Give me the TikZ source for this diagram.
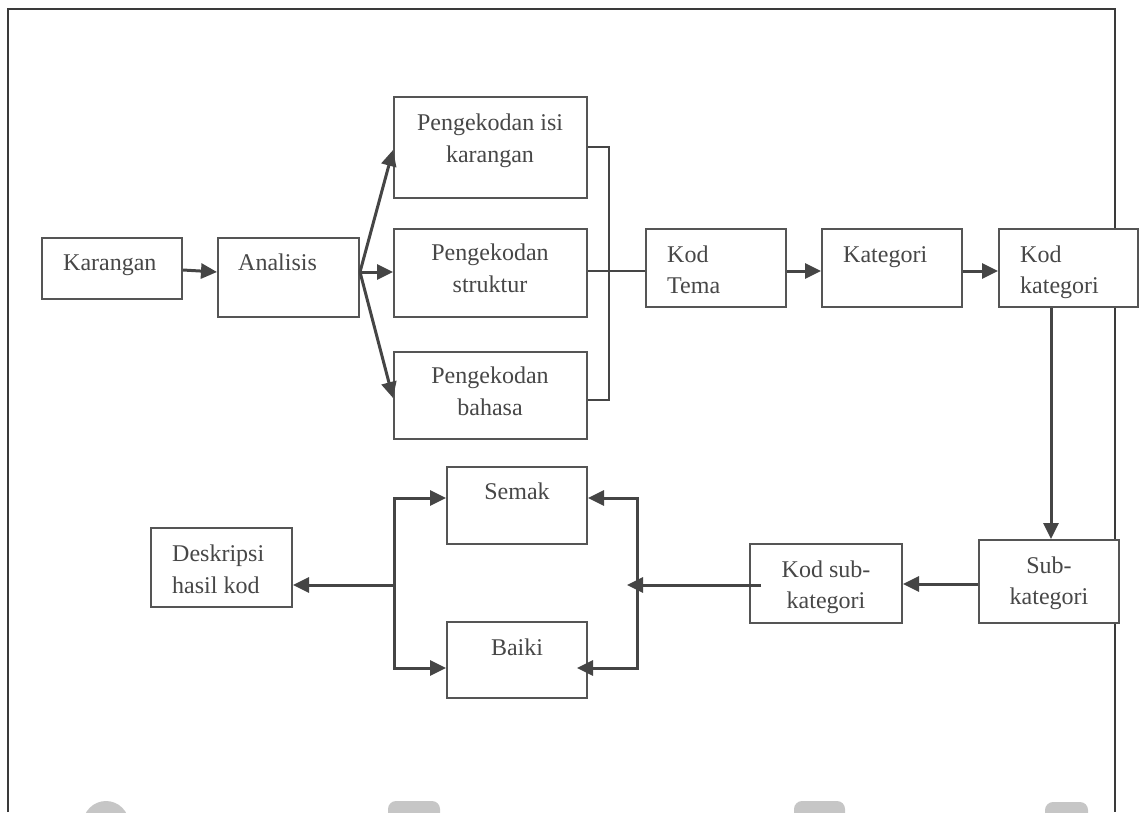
\documentclass[tikz,border=0pt]{standalone}
\usepackage{fontspec}
\setmainfont{Liberation Serif}
\usetikzlibrary{arrows.meta}
\definecolor{boxline}{HTML}{555555}
\definecolor{arrline}{HTML}{454545}
\definecolor{txt}{HTML}{474747}
\definecolor{frame}{HTML}{3A3A3A}
\definecolor{wmark}{HTML}{C6C6C6}
\tikzset{
  box/.style={draw=boxline, line width=2pt, fill=white, inner sep=0pt},
  arr/.style={draw=arrline, line width=3pt, -{Triangle[length=16pt,width=15pt]}},
  arrboth/.style={draw=arrline, line width=3pt, line join=miter,
     {Triangle[length=16pt,width=15pt]}-{Triangle[length=16pt,width=15pt]}},
  conn/.style={draw=arrline, line width=2.4pt, line join=miter},
  lbl/.style={text=txt, inner sep=0pt, font=\fontsize{24}{28}\selectfont},
  pageframe/.style={draw=frame, line width=1.4pt},
}
\begin{document}
\begin{tikzpicture}[x=1pt,y=-1pt]
\useasboundingbox (0,0) rectangle (1139,812);
% page frame
\draw[pageframe] (8,812) -- (8,9) -- (1115,9) -- (1115,812);
% watermark remnants at the bottom edge
\begin{scope}
\clip (0,0) rectangle (1139,812);
\fill[wmark] (106,824) circle (23);
\fill[wmark, rounded corners=8] (388,801) rectangle (440,840);
\fill[wmark, rounded corners=8] (794,801) rectangle (845,840);
\fill[wmark, rounded corners=8] (1045,802) rectangle (1088,840);
\end{scope}
% boxes
\node[box, minimum width=140pt, minimum height=61pt] (karangan) at (112,268.5) {};
\node[box, minimum width=141pt, minimum height=79pt] (analisis) at (288.5,277.5) {};
\node[box, minimum width=193pt, minimum height=101pt] (pk1) at (490.5,147.5) {};
\node[box, minimum width=193pt, minimum height=88pt] (pk2) at (490.5,273) {};
\node[box, minimum width=193pt, minimum height=87pt] (pk3) at (490.5,395.5) {};
\node[box, minimum width=140pt, minimum height=78pt] (kodtema) at (716,268) {};
\node[box, minimum width=140pt, minimum height=78pt] (kategori) at (892,268) {};
\node[box, minimum width=139pt, minimum height=78pt] (kodkat) at (1068.5,268) {};
\node[box, minimum width=140pt, minimum height=83pt] (subkat) at (1049,581.5) {};
\node[box, minimum width=152pt, minimum height=79pt] (kodsub) at (826,583.5) {};
\node[box, minimum width=140pt, minimum height=77pt] (semak) at (517,505.5) {};
\node[box, minimum width=140pt, minimum height=76pt] (baiki) at (517,660) {};
\node[box, minimum width=141pt, minimum height=79pt] (deskripsi) at (221.5,567.5) {};
% labels
\node[lbl, anchor=base west] (tkar) at (63,270) {Karangan};
\node[lbl, anchor=base west] (tana) at (238,270) {Analisis};
\node[lbl, anchor=base] (tpk1a) at (490,130.5) {Pengekodan isi};
\node[lbl, anchor=base] (tpk1b) at (490,162) {karangan};
\node[lbl, anchor=base] (tpk2a) at (490,260.5) {Pengekodan};
\node[lbl, anchor=base] (tpk2b) at (490,292.5) {struktur};
\node[lbl, anchor=base] (tpk3a) at (490,383) {Pengekodan};
\node[lbl, anchor=base] (tpk3b) at (490,415) {bahasa};
\node[lbl, anchor=base west] (ttema1) at (667,262.5) {Kod};
\node[lbl, anchor=base west] (ttema2) at (667,293.5) {Tema};
\node[lbl, anchor=base west] (tkat) at (843,262.5) {Kategori};
\node[lbl, anchor=base west] (tkk1) at (1020,262.5) {Kod};
\node[lbl, anchor=base west] (tkk2) at (1020,293) {kategori};
\node[lbl, anchor=base] (tsub1) at (1049,573) {Sub-};
\node[lbl, anchor=base] (tsub2) at (1049,604) {kategori};
\node[lbl, anchor=base] (tks1) at (826,577) {Kod sub-};
\node[lbl, anchor=base] (tks2) at (826,608) {kategori};
\node[lbl, anchor=base] (tsem) at (517,499.5) {Semak};
\node[lbl, anchor=base] (tbai) at (517,655) {Baiki};
\node[lbl, anchor=base west] (tdes1) at (172,561.5) {Deskripsi};
\node[lbl, anchor=base west] (tdes2) at (172,593.5) {hasil kod};
% junction coordinates
\coordinate (m1) at (609,147);
\coordinate (m3) at (609,400);
\coordinate (jl) at (394,585);
\coordinate (jlt) at (394,498);
\coordinate (jlb) at (394,668);
\coordinate (jr) at (627,585);
\coordinate (jrt) at (637,498);
\coordinate (jrb) at (637,668);
\coordinate (bt) at (577,668);
\coordinate (ks) at ([xshift=12pt]kodsub.west);
% connectors
\draw[arr] (karangan.east |- 0,270) -- (analisis.west |- 0,272);
\draw[arr] (analisis.east |- 0,272) -- (pk1.west |- 0,150);
\draw[arr] (analisis.east |- 0,272) -- (pk2.west |- 0,272);
\draw[arr] (analisis.east |- 0,272) -- (pk3.west |- 0,398);
\draw[conn] (pk1.east |- m1) -- (m1) -- (m3) -- (pk3.east |- m3);
\draw[conn] (pk2.east |- 0,271) -- (kodtema.west |- 0,271);
\draw[arr] (kodtema.east |- 0,271) -- (kategori.west |- 0,271);
\draw[arr] (kategori.east |- 0,271) -- (kodkat.west |- 0,271);
\draw[arr] (kodkat.south -| 1051,0) -- (subkat.north -| 1051,0);
\draw[arr] (subkat.west |- 0,584) -- (kodsub.east |- 0,584);
\draw[arr] (ks |- jr) -- (jr);
\draw[arrboth] (semak.east |- jrt) -- (jrt) -- (jrb) -- (bt);
\draw[arrboth] (semak.west |- jlt) -- (jlt) -- (jlb) -- (baiki.west |- jlb);
\draw[arr] (jl) -- (deskripsi.east |- jl);
\end{tikzpicture}
\end{document}
